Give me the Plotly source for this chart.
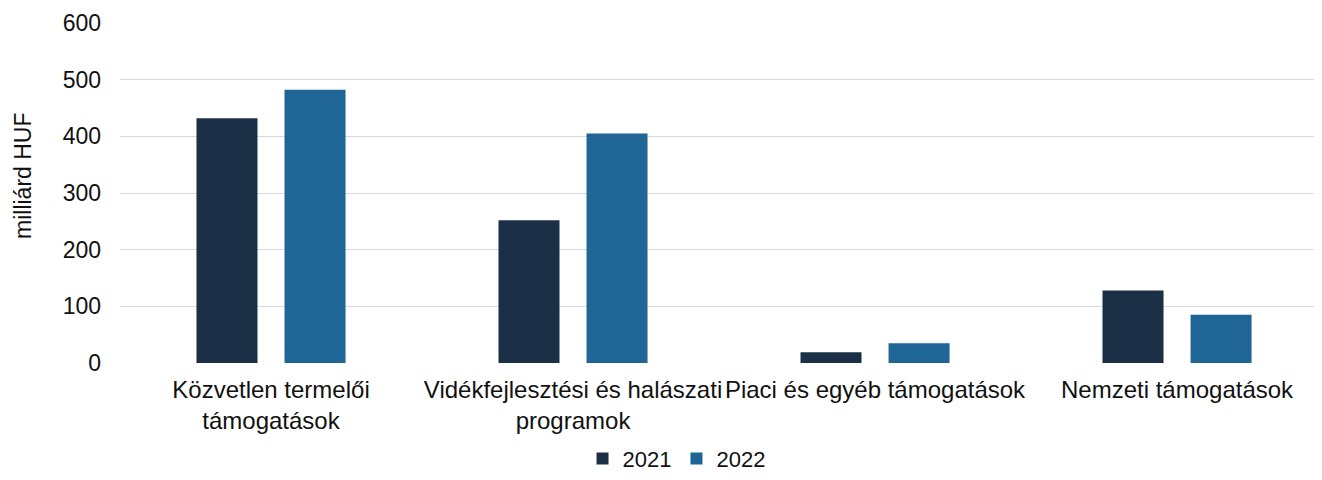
import plotly.graph_objects as go

categories = ["Közvetlen termelői<br>támogatások", "Vidékfejlesztési és halászati<br>programok",
              "Piaci és egyéb támogatások", "Nemzeti támogatások"]
values_2021 = [432, 252, 19, 128]
values_2022 = [482, 405, 35, 85]
series_names = ["2021", "2022"]
colors = ["#1b3047", "#1f6596"]
y_ticks = [0, 100, 200, 300, 400, 500, 600]

fig = go.Figure()
for name, vals, col in zip(series_names, [values_2021, values_2022], colors):
    fig.add_trace(go.Bar(x=categories, y=vals, name=name, marker_color=col,
                         marker_line_width=0))

# page body has an 8px default margin
W, H = 1314, 472
L, R, T, B = 112, 0, 15, 117
fig.update_layout(
    width=W, height=H,
    margin=dict(l=L, r=R, t=T, b=B, autoexpand=False),
    barmode="group", bargap=0.417, bargroupgap=0.307,
    plot_bgcolor="white", paper_bgcolor="white",
    font=dict(family="Liberation Sans, Arial, sans-serif", size=23, color="#111111"),
    xaxis=dict(range=[-0.5, 3.48], showgrid=False, showline=False, ticks="",
               tickfont=dict(size=24), ticklabelstandoff=10, automargin=False),
    yaxis=dict(range=[0, 600], tickvals=y_ticks, showgrid=True, gridcolor="#d9d9d9",
               gridwidth=1, zeroline=False, showline=False, ticks="",
               ticklabelstandoff=18, tickfont=dict(size=23), automargin=False),
    legend=dict(orientation="h", x=0.463, xanchor="center", y=-0.343, yanchor="bottom",
                font=dict(size=22), traceorder="normal"),
    showlegend=True,
)
fig.add_annotation(text="milliárd HUF", xref="paper", yref="paper",
                   x=(15 - L) / (W - L - R), y=0.55, textangle=-90, showarrow=False,
                   font=dict(size=23), xanchor="center", yanchor="middle")
fig.write_html("out.html")
